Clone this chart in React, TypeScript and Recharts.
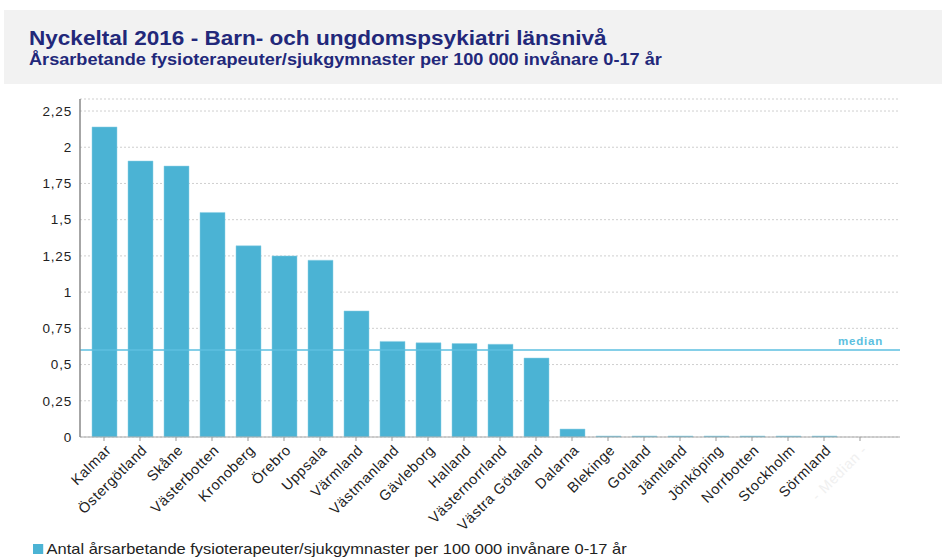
import React from 'react';
import { BarChart, Bar, XAxis, YAxis, CartesianGrid, ReferenceLine, Legend } from 'recharts';

const lan = [
  'Kalmar', 'Östergötland', 'Skåne', 'Västerbotten', 'Kronoberg', 'Örebro', 'Uppsala',
  'Värmland', 'Västmanland', 'Gävleborg', 'Halland', 'Västernorrland', 'Västra Götaland',
  'Dalarna', 'Blekinge', 'Gotland', 'Jämtland', 'Jönköping', 'Norrbotten', 'Stockholm', 'Sörmland',
  '- Median -',
];
const varden = [
  2.14, 1.905, 1.87, 1.55, 1.32, 1.25, 1.22,
  0.87, 0.66, 0.65, 0.645, 0.64, 0.545,
  0.055, 0, 0, 0, 0, 0, 0, 0,
  null,
];
const yTicks = [0, 0.25, 0.5, 0.75, 1, 1.25, 1.5, 1.75, 2, 2.25];
const median = 0.6;

const seriesName = 'Antal årsarbetande fysioterapeuter/sjukgymnaster per 100 000 invånare 0-17 år';
const title = 'Nyckeltal 2016 - Barn- och ungdomspsykiatri länsnivå';
const subtitle = 'Årsarbetande fysioterapeuter/sjukgymnaster per 100 000 invånare 0-17 år';

const data = lan.map((name, i) => ({ name, value: varden[i] }));

const BLUE = '#4bb3d4';
const FONT = '"Liberation Sans", Arial, sans-serif';

const fmt = (v: number) => String(v).replace('.', ',');

function XTick({ x, y, payload }: any) {
  const faint = payload.value === '- Median -';
  return (
    <text
      x={x + 8}
      y={y + 8}
      transform={`rotate(-45, ${x + 8}, ${y + 8})`}
      textAnchor="end"
      fontSize={14.5}
      letterSpacing={0.6}
      fontFamily={FONT}
      fill={faint ? '#f0f0f0' : '#222'}
    >
      {payload.value}
    </text>
  );
}

function MedianLabel({ viewBox }: any) {
  return (
    <text
      x={viewBox.x + viewBox.width - 17}
      y={viewBox.y - 5}
      textAnchor="end"
      fontSize={11.5}
      fontWeight="bold"
      fontFamily={FONT}
      fill="#5cbfe0"
      letterSpacing={0.8}
    >
      median
    </text>
  );
}

function LegendBox() {
  return (
    <div style={{ display: 'flex', alignItems: 'center', fontFamily: FONT, fontSize: 14.5, color: '#222', transform: 'scaleX(1.135)', transformOrigin: 'left center', whiteSpace: 'nowrap' }}>
      <span style={{ width: 9, height: 10, background: BLUE, display: 'inline-block', marginRight: 3 }} />
      {seriesName}
    </div>
  );
}

export default function App() {
  return (
    <div style={{ position: 'absolute', left: 0, top: 0, width: 942, height: 560, background: '#fff', overflow: 'hidden' }}>
      <div style={{ position: 'absolute', left: 4, top: 10, width: 938, height: 74, background: '#f2f2f2' }} />
      <div style={{ position: 'absolute', left: 29, top: 26, fontFamily: FONT, fontWeight: 'bold', fontSize: 20, color: '#22287a', lineHeight: '24px', transform: 'scaleX(1.127)', transformOrigin: 'left center', whiteSpace: 'nowrap' }}>
        {title}
      </div>
      <div style={{ position: 'absolute', left: 29, top: 50, fontFamily: FONT, fontWeight: 'bold', fontSize: 16, color: '#22287a', lineHeight: '20px', transform: 'scaleX(1.133)', transformOrigin: 'left center', whiteSpace: 'nowrap' }}>
        {subtitle}
      </div>
      <div style={{ position: 'absolute', left: 0, top: 0 }}>
        <BarChart
          width={942}
          height={560}
          data={data}
          margin={{ top: 99, right: 42, bottom: 7, left: 20 }}
          barSize={25}
        >
          <CartesianGrid horizontal vertical={false} stroke="#cfcfcf" strokeDasharray="2 2" />
          <XAxis
            dataKey="name"
            interval={0}
            height={100}
            tick={<XTick />}
            tickSize={4}
            tickLine={{ stroke: '#999' }}
            axisLine={{ stroke: '#aaa' }}
            padding={{ left: 6, right: 22 }}
          />
          <YAxis
            width={60}
            domain={[0, 2.333]}
            ticks={yTicks}
            tickFormatter={fmt}
            tick={{ fontSize: 13.5, fill: '#222', fontFamily: FONT, letterSpacing: 0.8 }}
            tickLine={false}
            axisLine={{ stroke: '#888', strokeWidth: 1.5 }}
            tickMargin={2}
          />
          <Bar dataKey="value" name={seriesName} fill={BLUE} stroke="#8fd0e6" strokeWidth={0.5} minPointSize={1} isAnimationActive={false} />
          <ReferenceLine y={median} stroke="#5cbfe0" strokeWidth={1.5} label={<MedianLabel />} />
          <Legend content={<LegendBox />} wrapperStyle={{ position: 'absolute', left: 33, top: 541, width: 700, height: 16 }} />
        </BarChart>
      </div>
    </div>
  );
}
